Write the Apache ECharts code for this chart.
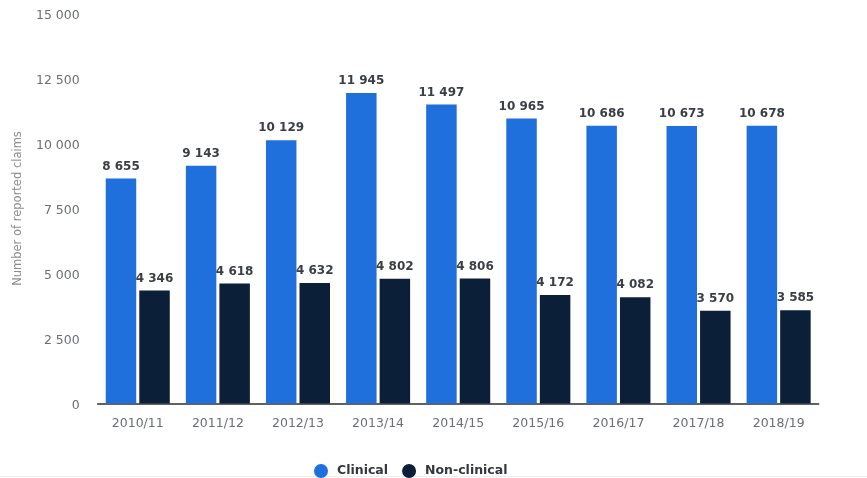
<!DOCTYPE html>
<html><head><meta charset="utf-8">
<style>html,body{margin:0;padding:0;background:#fff}#c{width:867px;height:478px}</style>
<script src="https://cdn.jsdelivr.net/npm/echarts@6/dist/echarts.min.js"></script>
</head><body><div id="c"></div>
<script>
const categories=['2010/11','2011/12','2012/13','2013/14','2014/15','2015/16','2016/17','2017/18','2018/19'];
const clinical=[8655,9143,10129,11945,11497,10965,10686,10673,10678];
const nonClinical=[4346,4618,4632,4802,4806,4172,4082,3570,3585];
const yTicks={min:0,max:15000,interval:2500};
const fmt=v=>String(v).replace(/\B(?=(\d{3})+$)/g,' ');
const font='"DejaVu Sans"';
const label={show:true,position:'top',distance:6,color:'#3a3f45',fontFamily:font,fontWeight:'bold',fontSize:12,formatter:p=>fmt(p.value)};
const chart=echarts.init(document.getElementById('c'),null,{renderer:'canvas'});
chart.setOption({
 animation:false,
 grid:{left:97.7,right:48.3,top:13.5,bottom:74.5,outerBoundsMode:'none'},
 legend:{top:459,left:309,icon:'circle',itemWidth:14,itemHeight:14,itemGap:14,
  textStyle:{fontFamily:font,fontWeight:'bold',fontSize:12.5,color:'#33383e',padding:[0,0,0,4]}},
 xAxis:{type:'category',data:categories,axisTick:{show:false},
  axisLine:{lineStyle:{color:'#2b2f33',width:1.5}},
  axisLabel:{color:'#6b6f73',fontFamily:font,fontSize:12.5,margin:14}},
 yAxis:{type:'value',min:yTicks.min,max:yTicks.max,interval:yTicks.interval,
  name:'Number of reported claims',nameLocation:'middle',nameGap:74,
  nameTextStyle:{color:'#8a8d90',fontFamily:font,fontSize:11.5},
  axisLine:{show:false},axisTick:{show:false},splitLine:{show:false},
  axisLabel:{color:'#6b6f73',fontFamily:font,fontSize:12.5,margin:18,verticalAlign:'top',lineHeight:4,formatter:fmt}},
 series:[
  {name:'Clinical',type:'bar',data:clinical,barWidth:30.5,barGap:'10%',itemStyle:{color:'#1f6fdc'},label},
  {name:'Non-clinical',type:'bar',data:nonClinical,barWidth:30.5,itemStyle:{color:'#0b2038'},label}
 ],
 graphic:[{type:'rect',left:0,top:476,shape:{width:867,height:1},style:{fill:'#eeeeee'},silent:true}]
});
</script></body></html>
